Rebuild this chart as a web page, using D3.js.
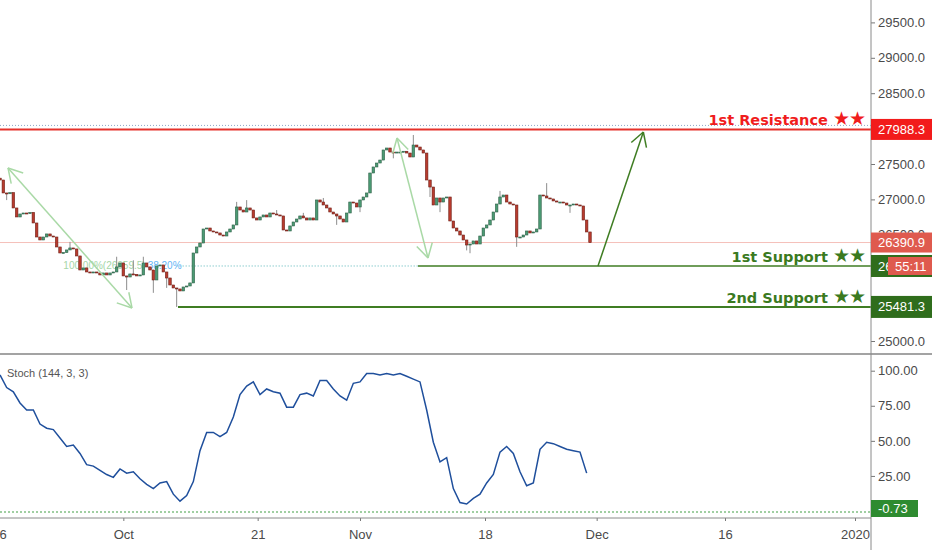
<!DOCTYPE html>
<html>
<head>
<meta charset="utf-8">
<script src="https://cdn.jsdelivr.net/npm/d3@7"></script>
<style>
  body { margin: 0; background: #fff; }
  svg { display: block; font-family: "Liberation Sans", Arial, sans-serif; }
  .ticktext { font-size: 13px; fill: #4a4a4a; }
  .level-label { font-family: "DejaVu Sans", sans-serif; font-weight: bold; font-size: 14.5px; }
  .stars { font-family: "DejaVu Sans", sans-serif; font-weight: normal; font-size: 19px; }
</style>
</head>
<body>
<svg width="932" height="550"></svg>
<script>
// ---- data ----
const firstOpen = 27300;
const closes = [
  27274, 27091, 27080, 27095, 26879, 26752, 26794, 26808, 26800, 26815,
  26667, 26469, 26427, 26469, 26512, 26483, 26469, 26328, 26243, 26250,
  26286, 26314, 26300, 26201, 26003, 26032, 25975, 25961, 25975, 25961,
  25933, 25961, 25933, 25961, 25975, 26046, 26102, 25919, 25904, 25947,
  25940, 25919, 25933, 26102, 26046, 26003, 25862, 26060, 26074, 25975,
  25890, 25791, 25749, 25735, 25707, 25763, 25777, 25820,
  26243, 26328, 26384, 26582, 26596, 26554, 26540, 26526, 26497, 26483,
  26540, 26582, 26639, 26893, 26850, 26822, 26879, 26850, 26738, 26709,
  26752, 26780, 26752, 26808, 26794, 26780, 26766, 26568, 26554, 26625,
  26681, 26723, 26766, 26738, 26709, 26738, 26709, 26992, 26963, 26921,
  26879, 26822, 26794, 26766, 26723, 26681, 26808, 26963, 26949, 26893,
  26992, 27034, 27091, 27373, 27458, 27514, 27556, 27698, 27726, 27669,
  27655, 27669,
  27669, 27680, 27655, 27599, 27768, 27740, 27698, 27655, 27274, 27175,
  26921, 27020, 26963, 27020, 27034, 26695, 26596, 26554, 26497, 26427,
  26356, 26370, 26413, 26370, 26483, 26596, 26639, 26709, 26822, 26935,
  27034, 27062, 26963, 26935, 26921, 26469, 26469, 26497, 26554, 26526,
  26540, 26582, 27062, 27048, 27020, 27006, 26978, 26963, 26963, 26949,
  26921, 26921, 26935, 26921, 26907, 26709, 26540, 26390.9
];
// notable wicks: [bar, high, low]  (null = no wick on that side)
const wicks = [
  [2, null, 26990], [21, 26400, null], [35, 26190, null], [38, null, 25720],
  [40, 26140, null], [43, 26190, null], [46, null, 25680], [50, null, 25750],
  [53, null, 25481.3], [71, 26965, null], [74, 26990, null], [83, 26850, null],
  [91, 26810, null], [97, 27020, null], [101, null, 26640], [108, null, 26820],
  [118, null, 27580], [124, 27910, null], [129, null, 27034], [132, null, 26820],
  [140, null, 26280], [141, null, 26240], [150, 27120, null], [155, null, 26330],
  [164, 27230, null], [171, null, 26810]
];
const stochStep = 2;   // one stoch value every 2 bars
const stochValues = [
  97, 88, 85, 77, 72, 72, 62, 59, 58, 52,
  46, 47, 41, 33, 32, 29, 26, 24, 30, 27,
  28, 23, 19, 16, 20, 21, 12, 7, 11, 21,
  43, 56, 56, 53, 56, 67, 83, 89, 92, 83,
  87, 85, 84, 74, 74, 83, 84, 82, 93, 93,
  87, 82, 79, 91, 92, 98, 98, 97, 98, 97,
  98, 96, 94, 92, 72, 49, 35, 38, 16, 6,
  5, 9, 12, 20, 26, 42, 46, 41, 28, 18,
  20, 44, 49, 48, 46, 44, 43, 42, 27
];
// labels hidden behind the value boxes are left out
const priceTicks = [25000, 26500, 27000, 27500, 28500, 29000, 29500];
const stochTicks = [25, 50, 75, 100];
const timeLabels = ['16', 'Oct', '21', 'Nov', '18', 'Dec', '16', '2020'];
const timeBars   = [-0.3, 37, 77.3, 108, 145.5, 179, 217.5, 256.5];

const resistance1 = 27988.3;
const support1 = 26059.5;
const support2 = 25481.3;
const lastPrice = 26390.9;
const priorHigh = 28045;
const stochLevel = -0.73;
const countdown = '55:11';

// drawings: [bar, price]
const arrowTails = [[39.6, 25467], [128.4, 26173], [179.4, support1]];
const arrowTips  = [[2.4, 27444],  [119.1, 27867], [193, 27952]];
const arrowHeads = [2, 2, 1];
const arrowColors = ['#a9d9a6', '#a9d9a6', '#3f7d23'];

// ---- layout ----
const svg = d3.select('svg');
const width  = +svg.attr('width');
const height = +svg.attr('height');
const axisX = 871;
const sepY = 354;
const bottomY = 518;

const xScale = d3.scaleLinear().domain([0, 261]).range([0, 870]);
const yPrice = d3.scaleLinear().domain([25000, 29500]).range([341, 22.4]);
const yStoch = d3.scaleLinear().domain([0, 100]).range([511, 370.7]);

const defs = svg.append('defs');
defs.append('clipPath').attr('id', 'clipPrice')
  .append('rect').attr('x', 0).attr('y', 0).attr('width', axisX).attr('height', sepY - 1);
defs.append('clipPath').attr('id', 'clipStoch')
  .append('rect').attr('x', 0).attr('y', sepY + 1).attr('width', axisX).attr('height', bottomY - sepY - 1);

const gPrice = svg.append('g').attr('clip-path', 'url(#clipPrice)');
const gStoch = svg.append('g').attr('clip-path', 'url(#clipStoch)');

// horizontal level lines
const hline = (g, y, x0, color, w, dash) => g.append('line')
  .attr('x1', x0).attr('x2', axisX).attr('y1', y).attr('y2', y)
  .attr('stroke', color).attr('stroke-width', w)
  .attr('stroke-dasharray', dash || null);

hline(gPrice, yPrice(priorHigh), 0, '#8fa6c6', 1, '1,2');
hline(gPrice, yPrice(resistance1), 0, '#e5312b', 2);
hline(gPrice, yPrice(lastPrice), 0, '#f5c0ba', 1);
gPrice.append('line')
  .attr('x1', xScale(53)).attr('x2', xScale(125.4))
  .attr('y1', yPrice(support1)).attr('y2', yPrice(support1))
  .attr('stroke', '#56b4b8').attr('stroke-width', 1).attr('stroke-dasharray', '1,2');
hline(gPrice, yPrice(support1), xScale(125.4), '#3f7d23', 1.5);
hline(gPrice, yPrice(support2), xScale(53.4), '#3f7d23', 2);

// fib labels
gPrice.append('text')
  .attr('x', xScale(53) - 31).attr('y', yPrice(support1)).attr('dy', '0.35em')
  .attr('text-anchor', 'end').attr('font-size', 10).attr('fill', '#a5d6a7')
  .text('100.00%(' + support1.toFixed(1) + ')');
gPrice.append('text')
  .attr('x', xScale(53) - 29).attr('y', yPrice(support1)).attr('dy', '0.35em')
  .attr('font-size', 10).attr('fill', '#64b5f6')
  .text('38.20%');

// candles
const wickMap = new Map(wicks.map(w => [w[0], w]));
const bars = closes.map((c, i) => {
  const open = i ? closes[i - 1] : firstOpen;
  const w = wickMap.get(i);
  return {
    i, open, close: c,
    high: Math.max(open, c, w && w[1] != null ? w[1] : -Infinity),
    low:  Math.min(open, c, w && w[2] != null ? w[2] : Infinity)
  };
});

const candle = gPrice.selectAll('g.candle')
  .data(bars).enter()
  .append('g')
    .attr('class', 'candle');

candle.append('line')
  .attr('x1', d => xScale(d.i)).attr('x2', d => xScale(d.i))
  .attr('y1', d => yPrice(d.high)).attr('y2', d => yPrice(d.low))
  .attr('stroke', '#8d8d8d').attr('stroke-width', 1);

candle.append('rect')
  .attr('x', d => xScale(d.i) - 1.25)
  .attr('width', 2.5)
  .attr('y', d => yPrice(Math.max(d.open, d.close)))
  .attr('height', d => Math.max(1, Math.abs(yPrice(d.open) - yPrice(d.close))))
  .attr('fill', d => d.close >= d.open ? '#4b9b74' : '#b93b2e')
  .attr('stroke', d => d.close >= d.open ? '#2c5f46' : '#6e1f17')
  .attr('stroke-width', 0.6);

// arrows
arrowTails.forEach((t, k) => {
  const p0 = [xScale(t[0]), yPrice(t[1])];
  const p1 = [xScale(arrowTips[k][0]), yPrice(arrowTips[k][1])];
  const col = arrowColors[k];
  gPrice.append('line')
    .attr('x1', p0[0]).attr('y1', p0[1]).attr('x2', p1[0]).attr('y2', p1[1])
    .attr('stroke', col).attr('stroke-width', 1.5);
  const head = (tip, tail) => {
    const a = Math.atan2(tail[1] - tip[1], tail[0] - tip[0]);
    [-1, 1].forEach(s => {
      const b = a + s * Math.PI / 6;
      gPrice.append('line')
        .attr('x1', tip[0]).attr('y1', tip[1])
        .attr('x2', tip[0] + 16 * Math.cos(b)).attr('y2', tip[1] + 16 * Math.sin(b))
        .attr('stroke', col).attr('stroke-width', 1.5);
    });
  };
  head(p1, p0);
  if (arrowHeads[k] === 2) head(p0, p1);
});

// level captions
const caption = (text, v, color) => {
  const t = svg.append('text')
    .attr('class', 'level-label')
    .attr('x', 865).attr('y', yPrice(v) - 4)
    .attr('text-anchor', 'end').attr('fill', color);
  t.append('tspan').text(text + ' ');
  t.append('tspan').attr('class', 'stars').attr('letter-spacing', -1).text('\u2605\u2605');
};
caption('1st Resistance', resistance1, '#f01d1d');
caption('1st Support', support1, '#3b7a1f');
caption('2nd Support', support2, '#3b7a1f');

// stochastic
gStoch.append('line')
  .attr('x1', 0).attr('x2', axisX)
  .attr('y1', yStoch(stochLevel)).attr('y2', yStoch(stochLevel))
  .attr('stroke', '#43a047').attr('stroke-width', 1.2).attr('stroke-dasharray', '2,2');

gStoch.append('path')
  .datum(stochValues)
  .attr('fill', 'none')
  .attr('stroke', '#1f4f9c')
  .attr('stroke-width', 1.5)
  .attr('d', d3.line()
    .x((d, k) => xScale(k * stochStep))
    .y(d => yStoch(d)));

svg.append('text')
  .attr('x', 7).attr('y', 377)
  .attr('font-size', 11).attr('fill', '#555')
  .text('Stoch (144, 3, 3)');

// axes
svg.append('g')
  .attr('transform', `translate(${axisX},0)`)
  .call(d3.axisRight(yPrice).tickValues(priceTicks).tickSize(4).tickPadding(3)
    .tickFormat(d3.format('.1f')))
  .call(g => g.select('.domain').remove());

svg.append('g')
  .attr('transform', `translate(${axisX},0)`)
  .call(d3.axisRight(yStoch).tickValues(stochTicks).tickSize(4).tickPadding(3)
    .tickFormat(d3.format('.2f')))
  .call(g => g.select('.domain').remove());

svg.append('g')
  .attr('transform', `translate(0,${bottomY})`)
  .call(d3.axisBottom(xScale).tickValues(timeBars).tickSize(3).tickPadding(9)
    .tickFormat((d, i) => timeLabels[i]))
  .call(g => g.select('.domain').remove());

svg.selectAll('.tick text').attr('class', 'ticktext').attr('font-family', null).attr('font-size', null);
svg.selectAll('.tick line').attr('stroke', '#777');

svg.append('line').attr('x1', 0).attr('x2', width).attr('y1', sepY).attr('y2', sepY)
  .attr('stroke', '#a3a3a3').attr('stroke-width', 2);
svg.append('line').attr('x1', 0).attr('x2', axisX).attr('y1', bottomY).attr('y2', bottomY)
  .attr('stroke', '#8a8a8a').attr('stroke-width', 1);
svg.append('line').attr('x1', axisX).attr('x2', axisX).attr('y1', 0).attr('y2', height)
  .attr('stroke', '#8a8a8a').attr('stroke-width', 1);

// value boxes on the right scale
const box = (y, label, color, x0, w, h) => {
  svg.append('rect').attr('x', x0).attr('y', y - h / 2).attr('width', w).attr('height', h)
    .attr('fill', color);
  svg.append('text').attr('x', x0 + 7).attr('y', y).attr('dy', '0.35em')
    .attr('font-size', 13).attr('fill', '#fff').text(label);
};
box(yPrice(resistance1), resistance1.toFixed(1), '#f21b1b', axisX, 61, 21);
box(yPrice(lastPrice), lastPrice.toFixed(1), '#df5a4e', axisX, 61, 20);
box(yPrice(support1), support1.toFixed(1), '#2f6d1c', axisX, 61, 22);
box(yPrice(support1), countdown, '#df5a4e', 888, 44, 18);
box(yPrice(support2), support2.toFixed(1), '#2f6d1c', axisX, 61, 22);
box(Math.min(yStoch(stochLevel), bottomY - 9.5), stochLevel.toFixed(2), '#2e8b30', axisX, 47, 17);
</script>
</body>
</html>
